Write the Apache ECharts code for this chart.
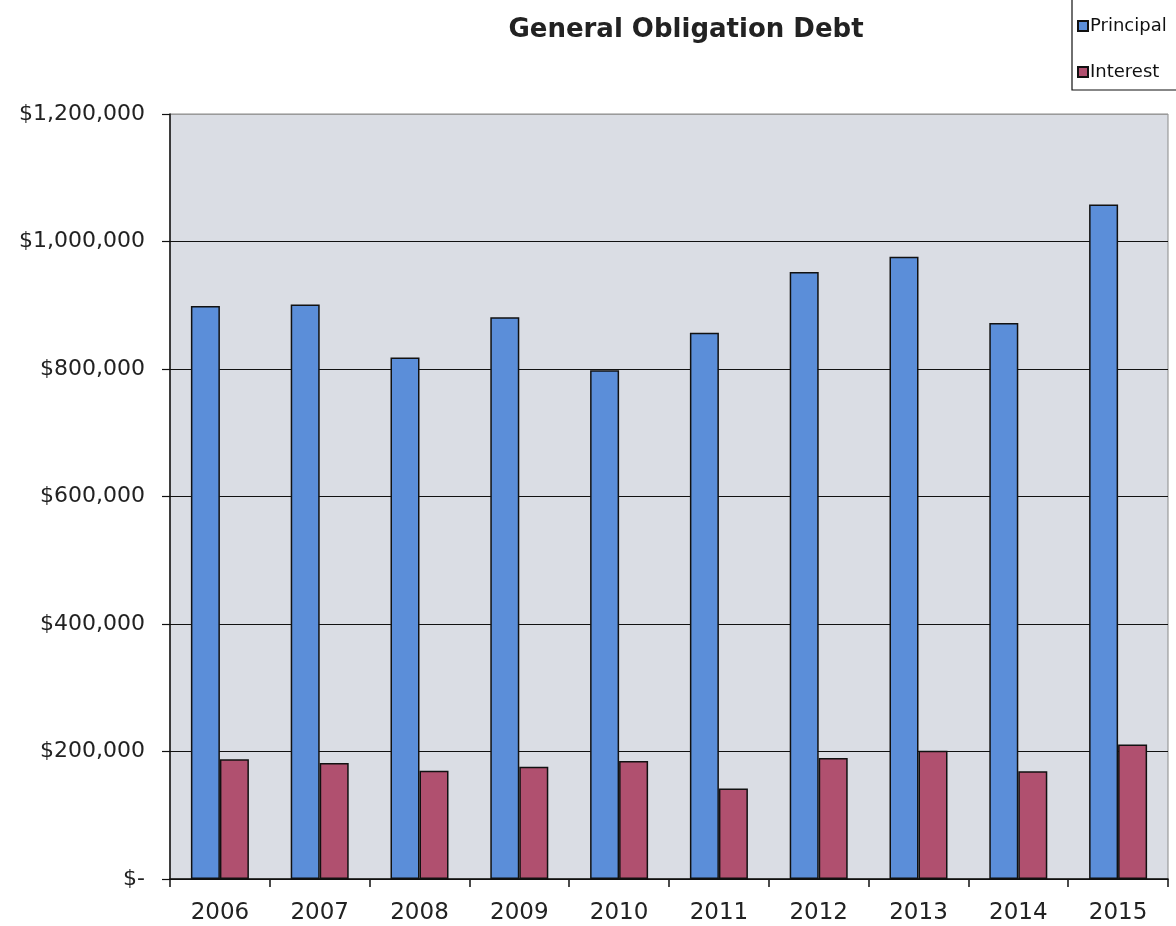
<!DOCTYPE html>
<html>
<head>
<meta charset="utf-8">
<script src="https://cdn.jsdelivr.net/npm/echarts@6/dist/echarts.min.js"></script>
<style>
  html, body { margin: 0; padding: 0; background: #ffffff; }
  #chart { width: 1176px; height: 926px; }
</style>
</head>
<body>
<div id="chart"></div>
<script>
const titleText = 'General Obligation Debt';
const years = ['2006', '2007', '2008', '2009', '2010', '2011', '2012', '2013', '2014', '2015'];
const principal = [899000, 901000, 818000, 881000, 798000, 857000, 952000, 976000, 872000, 1058000];
const interest = [188000, 182000, 170000, 176000, 185000, 142000, 190000, 201000, 169000, 211000];
const seriesNames = ['Principal', 'Interest'];
const yMin = 0, yMax = 1200000, yStep = 200000;

function money(v) {
  if (v === 0) return '$-';
  return '$' + v.toLocaleString('en-US');
}

const chart = echarts.init(document.getElementById('chart'));
const font = 'DejaVu Sans, Liberation Sans, Arial, sans-serif';
chart.setOption({
  animation: false,
  backgroundColor: '#ffffff',
  title: {
    text: titleText,
    left: 681, textAlign: 'center', top: 12,
    textStyle: { fontFamily: font, fontSize: 26, fontWeight: 'bold', color: '#222' }
  },
  legend: {
    data: seriesNames,
    orient: 'vertical',
    left: 1072, top: 12,
    icon: 'rect',
    itemWidth: 10, itemHeight: 10,
    itemGap: 28,
    textStyle: { fontFamily: font, fontSize: 18, color: '#111', padding: [0, 0, 0, -3] }
  },
  graphic: [{
    type: 'rect',
    shape: { x: 1072, y: -5, width: 120, height: 95 },
    style: { fill: 'none', stroke: '#111', lineWidth: 1.2 },
    z: 10
  }],
  grid: {
    left: 170, right: 8, top: 114, bottom: 47,
    show: true, backgroundColor: '#dadde4', borderColor: '#8a8a8a', borderWidth: 1
  },
  xAxis: {
    type: 'category',
    data: years,
    axisLine: { lineStyle: { color: '#111', width: 1.5 } },
    axisTick: { show: true, alignWithLabel: false, length: 8, lineStyle: { color: '#111', width: 1.5 } },
    axisLabel: { fontFamily: font, fontSize: 23, color: '#222', margin: 23 }
  },
  yAxis: {
    type: 'value',
    min: yMin, max: yMax, interval: yStep,
    axisLine: { show: true, lineStyle: { color: '#111', width: 1.5 } },
    axisTick: { show: true, length: 8, lineStyle: { color: '#111', width: 1.2 } },
    axisLabel: { fontFamily: font, fontSize: 22, color: '#222', margin: 25, formatter: money },
    splitLine: { show: true, lineStyle: { color: ['#111', '#111', '#111', '#111', '#111', '#111', '#9a9a9a'], width: 1.2 } }
  },
  series: [
    {
      name: seriesNames[0], type: 'bar', data: principal,
      barWidth: 29, barGap: '0%',
      itemStyle: { color: '#5b8ed9', borderColor: '#111', borderWidth: 1.5 }
    },
    {
      name: seriesNames[1], type: 'bar', data: interest,
      barWidth: 29, barGap: '0%',
      itemStyle: { color: '#b0506f', borderColor: '#111', borderWidth: 1.5 }
    }
  ]
});
</script>
</body>
</html>
